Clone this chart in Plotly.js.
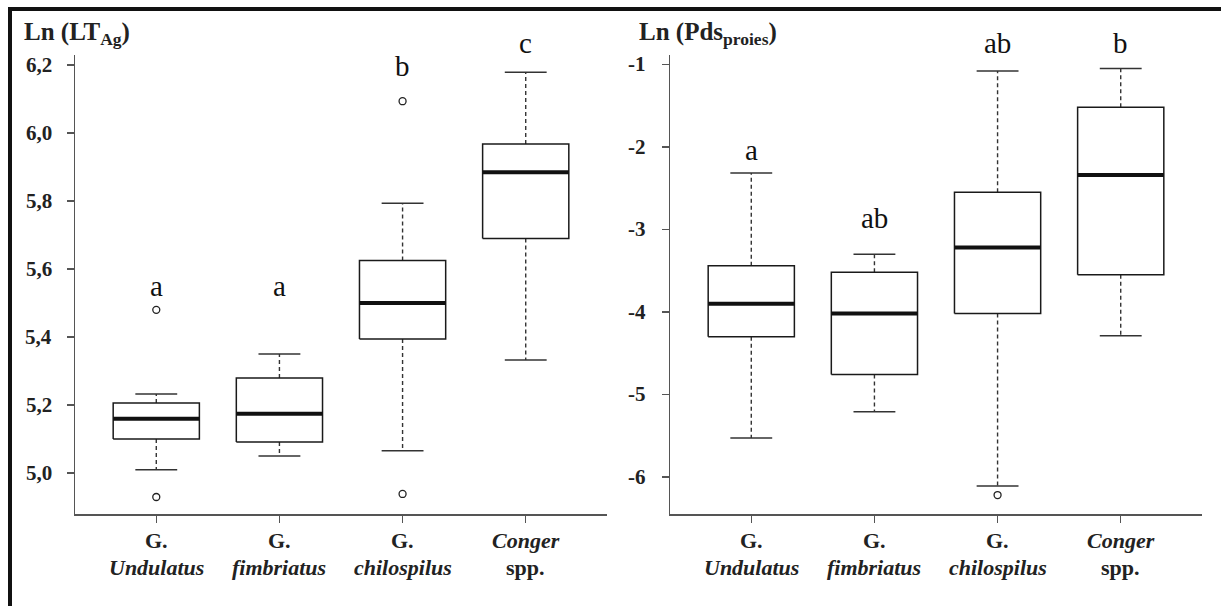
<!DOCTYPE html>
<html>
<head>
<meta charset="utf-8">
<script src="https://cdn.plot.ly/plotly-3.0.1.min.js"></script>
<style>
  html, body { margin: 0; padding: 0; background: #fff; }
  #wrap { position: relative; width: 1221px; height: 606px; overflow: hidden; }
  #chart { position: absolute; left: 0; top: 0; width: 1221px; height: 606px; }
  #frame { position: absolute; left: 8px; top: 7px; width: 1221px; height: 620px;
           border-top: 4px solid #111; border-left: 4px solid #111; pointer-events: none; }
</style>
</head>
<body>
<div id="wrap"><div id="chart"></div><div id="frame"></div></div>
<script>
// ---- categories / tick labels ----
const categories = ['G.<br><i>Undulatus</i>', 'G.<br><i>fimbriatus</i>', 'G.<br><i>chilospilus</i>', '<i>Conger</i><br>spp.'];
const positions = [1, 2, 3, 4];

// ---- Left panel: Ln(LT_Ag) ----
const ltLower  = [5.009, 5.050, 5.065, 5.332];
const ltQ1     = [5.100, 5.091, 5.394, 5.690];
const ltMedian = [5.159, 5.174, 5.500, 5.885];
const ltQ3     = [5.206, 5.279, 5.625, 5.968];
const ltUpper  = [5.232, 5.350, 5.794, 6.179];
const ltOutX   = [1, 1, 3, 3];
const ltOutY   = [4.929, 5.480, 4.938, 6.094];
const ltLetters = ['a', 'a', 'b', 'c'];
const ltLetterY = [5.55, 5.55, 6.197, 6.265];
const ltTickVals = [5.0, 5.2, 5.4, 5.6, 5.8, 6.0, 6.2];
const ltTickText = ['5,0', '5,2', '5,4', '5,6', '5,8', '6,0', '6,2'];

// ---- Right panel: Ln(Pds_proies) ----
const pdLower  = [-5.53, -5.21, -6.11, -4.29];
const pdQ1     = [-4.30, -4.76, -4.02, -3.55];
const pdMedian = [-3.90, -4.02, -3.22, -2.34];
const pdQ3     = [-3.44, -3.52, -2.55, -1.52];
const pdUpper  = [-2.315, -3.30, -1.08, -1.05];
const pdOutX   = [3];
const pdOutY   = [-6.22];
const pdLetters = ['a', 'ab', 'ab', 'b'];
const pdLetterY = [-2.036, -2.86, -0.74, -0.74];
const pdTickVals = [-6, -5, -4, -3, -2, -1];
const pdTickText = ['-6', '-5', '-4', '-3', '-2', '-1'];

const SERIF = '"Liberation Serif", "Times New Roman", Times, serif';
const HALF = 0.35, CAP = 0.17;
const BOXCOL = '#1a1a1a', AXCOL = '#555';
const W = 1221, H = 606;
const Y_DOM = [92 / H, 551 / H];
const LT_RANGE = [4.879, 6.23], PD_RANGE = [-6.45, -0.885];

function panel(xa, ya, lo, q1, med, q3, up, ox, oy) {
  const bx = [], by = [], mx = [], my = [], wx = [], wy = [], cx = [], cy = [];
  positions.forEach((c, i) => {
    bx.push(c - HALF, c + HALF, c + HALF, c - HALF, c - HALF, null);
    by.push(q1[i], q1[i], q3[i], q3[i], q1[i], null);
    mx.push(c - HALF, c + HALF, null); my.push(med[i], med[i], null);
    wx.push(c, c, null, c, c, null); wy.push(q3[i], up[i], null, q1[i], lo[i], null);
    cx.push(c - CAP, c + CAP, null, c - CAP, c + CAP, null);
    cy.push(up[i], up[i], null, lo[i], lo[i], null);
  });
  const base = { xaxis: xa, yaxis: ya, type: 'scatter', mode: 'lines', hoverinfo: 'skip', cliponaxis: false };
  return [
    Object.assign({}, base, { x: wx, y: wy, line: { color: '#333', width: 1.4, dash: '4px,3px' } }),
    Object.assign({}, base, { x: cx, y: cy, line: { color: '#333', width: 1.5 } }),
    Object.assign({}, base, { x: bx, y: by, line: { color: BOXCOL, width: 1.5 } }),
    Object.assign({}, base, { x: mx, y: my, line: { color: '#111', width: 4 } }),
    Object.assign({}, base, { x: ox, y: oy, mode: 'markers',
      marker: { symbol: 'circle-open', size: 7, color: '#222', line: { width: 1.3, color: '#222' } } })
  ];
}

const traces = [].concat(
  panel('x', 'y', ltLower, ltQ1, ltMedian, ltQ3, ltUpper, ltOutX, ltOutY),
  panel('x2', 'y2', pdLower, pdQ1, pdMedian, pdQ3, pdUpper, pdOutX, pdOutY)
);

const xBase = {
  range: [0.34, 4.66], tickvals: positions, showticklabels: false,
  showline: true, linecolor: AXCOL, linewidth: 1.5, ticks: 'outside', ticklen: 7, tickwidth: 1.5,
  tickcolor: AXCOL, showgrid: false, zeroline: false, fixedrange: true
};
const yBase = {
  showline: true, linecolor: AXCOL, linewidth: 1.5, ticks: 'outside', ticklen: 7, tickwidth: 1.5,
  tickcolor: AXCOL, showgrid: false, zeroline: false, fixedrange: true, showticklabels: false,
  domain: Y_DOM
};

const annotations = [];
// significance letters; if above the axis range, pin to the top and shift by pixels
function letter(xref, yref, x, y, txt, range) {
  const pxPerUnit = (Y_DOM[1] - Y_DOM[0]) * H / (range[1] - range[0]);
  const yy = Math.min(y, range[1]);
  return { xref: xref, yref: yref, x: x, y: yy, yshift: (y - yy) * pxPerUnit, text: txt,
           showarrow: false, yanchor: 'middle', font: { family: SERIF, size: 29, color: '#111' } };
}
positions.forEach((c, i) => {
  annotations.push(letter('x', 'y', c, ltLetterY[i], ltLetters[i], LT_RANGE));
  annotations.push(letter('x2', 'y2', c, pdLetterY[i], pdLetters[i], PD_RANGE));
});

// category tick labels (two lines each), bold serif
const catFont = { family: SERIF, size: 22, color: '#222' };
['x', 'x2'].forEach(xr => {
  positions.forEach((c, i) => {
    const lines = categories[i].split('<br>');
    lines.forEach((ln, k) => {
      annotations.push({ xref: xr, yref: 'paper', x: c, y: 1 - (540 + 27 * k) / H, yanchor: 'middle',
        text: '<b>' + ln + '</b>', showarrow: false, font: catFont });
    });
  });
});

// numeric tick labels, bold serif
const numFont = { family: SERIF, size: 21, color: '#222' };
ltTickVals.forEach((v, i) => {
  annotations.push({ xref: 'paper', yref: 'y', x: 75 / W, xshift: -21, y: v, xanchor: 'right', yanchor: 'middle',
    text: '<b>' + ltTickText[i] + '</b>', showarrow: false, font: numFont });
});
pdTickVals.forEach((v, i) => {
  annotations.push({ xref: 'paper', yref: 'y2', x: 670 / W, xshift: -22, y: v, xanchor: 'right', yanchor: 'middle',
    text: '<b>' + pdTickText[i] + '</b>', showarrow: false, font: numFont });
});

// axis titles
const titleFont = { family: SERIF, size: 25, color: '#222' };
annotations.push({ xref: 'paper', yref: 'paper', x: 22 / W, y: 1 - 33 / H, xanchor: 'left', yanchor: 'middle',
  text: '<b>Ln (LT<sub>Ag</sub>)</b>', showarrow: false, font: titleFont });
annotations.push({ xref: 'paper', yref: 'paper', x: 637 / W, y: 1 - 33 / H, xanchor: 'left', yanchor: 'middle',
  text: '<b>Ln (Pds<sub>proies</sub>)</b>', showarrow: false, font: titleFont });

const layout = {
  width: W, height: H, margin: { l: 0, r: 0, t: 0, b: 0 },
  paper_bgcolor: '#fff', plot_bgcolor: '#fff', showlegend: false,
  font: { family: SERIF, color: '#222' },
  xaxis: Object.assign({}, xBase, { domain: [75 / W, 607 / W], anchor: 'y' }),
  xaxis2: Object.assign({}, xBase, { domain: [670 / W, 1202 / W], anchor: 'y2' }),
  yaxis: Object.assign({}, yBase, { range: LT_RANGE, tickvals: ltTickVals, anchor: 'x' }),
  yaxis2: Object.assign({}, yBase, { range: PD_RANGE, tickvals: pdTickVals, anchor: 'x2' }),
  annotations: annotations
};

Plotly.newPlot('chart', traces, layout, { staticPlot: true, displayModeBar: false });
</script>
</body>
</html>
